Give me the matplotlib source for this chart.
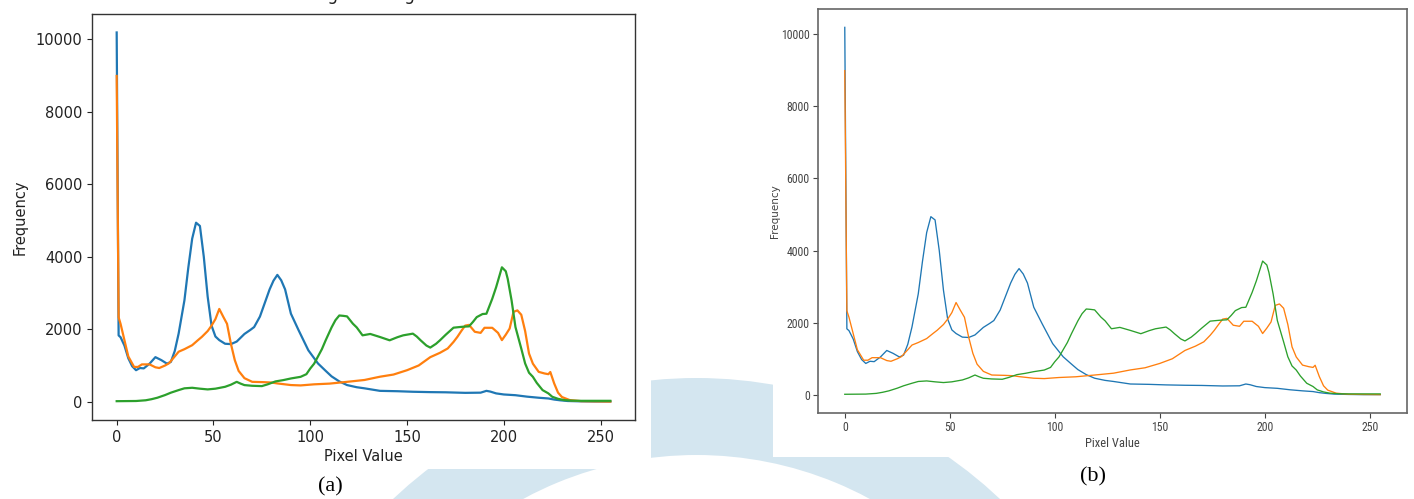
import matplotlib
matplotlib.use("Agg")
import matplotlib.pyplot as plt
from matplotlib.patches import Wedge, Rectangle
from matplotlib import font_manager as fm

# ---------------- data ----------------
blue_x = [0, 1, 2, 4, 6, 8, 10, 12, 14, 17, 20, 23, 26, 28, 30, 32, 35, 37, 39, 41, 43, 45, 47, 49,
          51, 53, 56, 59, 62, 66, 69, 71, 74, 77, 79, 81, 83, 85, 87, 90, 94, 99, 104, 108, 111, 115,
          119, 124, 128, 136, 145, 153, 162, 170, 180, 188, 191, 193, 196, 200, 206, 212, 218, 223,
          226, 229, 233, 240, 247, 255]
blue_y = [10190, 1830, 1780, 1550, 1200, 980, 870, 930, 920, 1050, 1230, 1150, 1050, 1100, 1400, 1880,
          2800, 3700, 4500, 4940, 4850, 4000, 2900, 2100, 1800, 1700, 1600, 1590, 1660, 1870, 1980,
          2060, 2350, 2800, 3100, 3340, 3500, 3350, 3100, 2430, 1970, 1420, 1055, 850, 700, 560, 460,
          400, 370, 300, 290, 275, 265, 260, 245, 250, 300, 280, 230, 200, 180, 140, 110, 90, 60, 40,
          20, 10, 5, 5]

orange_x = [0, 1, 2, 4, 6, 9, 11, 13, 17, 20, 22, 25, 27, 30, 32, 35, 39, 42, 44, 47, 49, 51, 53, 55,
            57, 59, 61, 63, 66, 70, 76, 80, 83, 90, 95, 102, 110, 119, 128, 136, 143, 150, 156, 162,
            167, 171, 174, 176, 178, 180, 182, 185, 188, 190, 194, 197, 199, 201, 203, 205, 207, 209,
            211, 213, 215, 218, 221, 223, 224, 226, 228, 230, 234, 240, 255]
orange_y = [8990, 2330, 2150, 1700, 1250, 960, 960, 1030, 1030, 950, 930, 1000, 1060, 1250, 1380, 1450,
            1560, 1700, 1790, 1950, 2100, 2280, 2560, 2350, 2150, 1600, 1150, 850, 650, 549, 540, 530,
            505, 460, 450, 480, 500, 549, 600, 690, 750, 870, 1000, 1230, 1350, 1470, 1650, 1790, 1950,
            2100, 2120, 1930, 1900, 2040, 2040, 1900, 1700, 1850, 2020, 2480, 2520, 2400, 1950, 1330,
            1050, 824, 780, 760, 820, 505, 250, 130, 46, 15, 5]

green_x = [0, 10, 15, 18, 21, 25, 28, 32, 35, 39, 43, 47, 51, 56, 59, 62, 64, 66, 70, 75, 78, 82, 86,
           90, 95, 98, 100, 102, 104, 106, 108, 111, 113, 115, 117, 119, 122, 124, 127, 131, 136, 141,
           145, 148, 151, 153, 155, 157, 160, 162, 165, 167, 170, 174, 177, 179, 182, 184, 186, 189,
           191, 194, 196, 199, 201, 202, 204, 206, 209, 211, 213, 215, 217, 220, 223, 225, 228, 231,
           235, 240, 255]
green_y = [15, 20, 40, 70, 110, 184, 250, 321, 370, 385, 360, 340, 360, 412, 470, 549, 500, 459, 440,
           431, 480, 560, 596, 642, 687, 760, 917, 1050, 1250, 1450, 1700, 2050, 2250, 2380, 2370, 2355,
           2154, 2050, 1832, 1870, 1786, 1695, 1780, 1832, 1860, 1879, 1800, 1695, 1550, 1494, 1600,
           1695, 1850, 2043, 2060, 2070, 2080, 2200, 2335, 2420, 2428, 2840, 3159, 3709, 3600, 3390,
           2794, 2060, 1467, 1055, 800, 687, 520, 321, 230, 137, 80, 46, 30, 25, 25]

x_label = "Pixel Value"
y_label = "Frequency"
panel_captions = ["(a)", "(b)"]
title_a = "Original Image"
x_ticks = [0, 50, 100, 150, 200, 250]
y_ticks = [0, 2000, 4000, 6000, 8000, 10000]

COLORS = ["#1f77b4", "#ff7f0e", "#2ca02c"]
W, H = 1414, 499

# pick a narrow font for panel (b) (it is a horizontally squeezed screenshot)
_entries = [(f.name, str(f.stretch)) for f in fm.fontManager.ttflist]
_names = {n for n, _ in _entries}
if "Liberation Sans Narrow" in _names:
    NARROW = dict(family="Liberation Sans Narrow", stretch="normal")
    NSIZE = 8.5
elif "Roboto Condensed" in _names:
    NARROW = dict(family="Roboto Condensed", stretch="normal")
    NSIZE = 8.5
elif any(n == "DejaVu Sans" and ("condensed" in s.lower()) for n, s in _entries):
    NARROW = dict(family="DejaVu Sans", stretch="condensed")
    NSIZE = 7.5
else:
    NARROW = dict(family="DejaVu Sans", stretch="normal")
    NSIZE = 6.8

fig = plt.figure(figsize=(W / 100, H / 100), dpi=100)
fig.patch.set_facecolor("white")

# ---------------- background (watermark + panel images) ----------------
bg = fig.add_axes([0, 0, 1, 1], zorder=0)
bg.set_xlim(0, W)
bg.set_ylim(H, 0)
bg.axis("off")
bg.add_patch(Wedge((696.5, 819), 441, 0, 360, width=77, facecolor="#d4e6f0", edgecolor="none"))
bg.add_patch(Rectangle((0, 0), 651, 469, facecolor="white", edgecolor="none"))
bg.add_patch(Rectangle((773, 0), W - 773, 457, facecolor="white", edgecolor="none"))


def px_rect(left, top, right, bottom):
    return [left / W, 1 - bottom / H, (right - left) / W, (bottom - top) / H]


# ---------------- panel (a) ----------------
ax1 = fig.add_axes(px_rect(92, 14, 635, 420), zorder=2)
ax1.set_facecolor("none")
for xs, ys, c in [(blue_x, blue_y, COLORS[0]), (orange_x, orange_y, COLORS[1]), (green_x, green_y, COLORS[2])]:
    ax1.plot(xs, ys, color=c, lw=1.6)
ax1.set_xticks(x_ticks)
ax1.set_yticks(y_ticks)
ax1.tick_params(labelsize=10.5, colors="#222222")
ax1.set_xlabel(x_label, fontsize=10.5, color="#222222", labelpad=3)
ax1.set_ylabel(y_label, fontsize=10.5, color="#222222", labelpad=6)
for s in ax1.spines.values():
    s.set_color("#333333")
    s.set_linewidth(1.0)

# title of panel (a) is cut off at the top edge in the reference (only the descenders show)
fig.text(364 / W, 1.0, title_a, ha="center", va="baseline", fontsize=12, color="#222222")

# ---------------- panel (b) ----------------
ax2 = fig.add_axes(px_rect(818, 9, 1407, 413), zorder=2)
ax2.set_facecolor("none")
for xs, ys, c in [(blue_x, blue_y, COLORS[0]), (orange_x, orange_y, COLORS[1]), (green_x, green_y, COLORS[2])]:
    ax2.plot(xs, ys, color=c, lw=0.95)
ax2.set_xticks(x_ticks)
ax2.set_yticks(y_ticks)
ax2.tick_params(labelsize=NSIZE, colors="#444444", length=3.5, width=0.8, pad=2.5)
for lab in ax2.get_xticklabels() + ax2.get_yticklabels():
    lab.set_family(NARROW["family"])
    lab.set_stretch(NARROW["stretch"])
ax2.set_xlabel(x_label, fontsize=NSIZE + 0.5, color="#444444", family=NARROW["family"],
               stretch=NARROW["stretch"], labelpad=2)
ax2.set_ylabel(y_label, fontsize=7.5, color="#444444", labelpad=1)
for s in ax2.spines.values():
    s.set_color("#666666")
    s.set_linewidth(1.2)

# ---------------- captions ----------------
fig.text(330 / W, 1 - 487 / H, panel_captions[0], ha="center", va="center",
         fontsize=16, family=["Liberation Serif", "DejaVu Serif"], color="black")
fig.text(1093 / W, 1 - 477 / H, panel_captions[1], ha="center", va="center",
         fontsize=16, family=["Liberation Serif", "DejaVu Serif"], color="black")

fig.savefig("out.png", dpi=100, facecolor="white")
